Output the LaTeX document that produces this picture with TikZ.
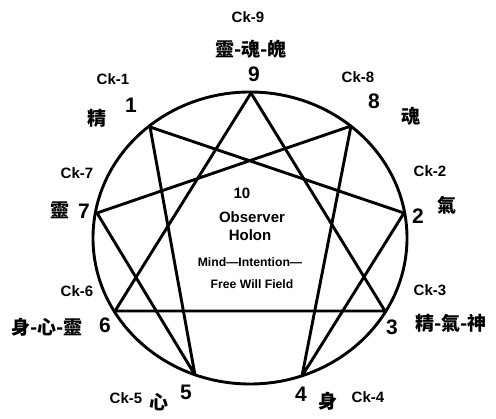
\documentclass[tikz,border=0pt]{standalone}
\usepackage{fontspec}
\setmainfont{Liberation Sans}
\newfontfamily\cjk{Noto Sans CJK TC}
\begin{document}
\begin{tikzpicture}[x=1pt,y=-1pt,
  line/.style={line width=2.9pt, line join=round, line cap=round},
  ck/.style={font=\bfseries\fontsize{15}{15}\selectfont, inner sep=0pt},
  num/.style={font=\bfseries\fontsize{21}{21}\selectfont, inner sep=0pt},
  han/.style={font=\cjk\bfseries\fontsize{19}{19}\selectfont, inner sep=0pt},
  mid/.style={font=\bfseries\fontsize{15}{15}\selectfont, inner sep=0pt},
  small/.style={font=\bfseries\fontsize{12.2}{12.2}\selectfont, inner sep=0pt}]
\useasboundingbox (0,0) rectangle (496,419);
% points on the ellipse
\coordinate (c) at (250,238);
\coordinate (p9) at (251,93);
\coordinate (p8) at (351,126);
\coordinate (p2) at (404,213);
\coordinate (p3) at (385,311);
\coordinate (p4) at (302,376);
\coordinate (p5) at (195,375);
\coordinate (p6) at (115,311);
\coordinate (p7) at (97,213);
\coordinate (p1) at (150,127);
\draw[line] (c) ellipse [x radius=157pt, y radius=146pt];
% triangle
\draw[line] (p9) -- (p3) -- (p6) -- cycle;
% hexad
\draw[line] (p1) -- (p2) -- (p4) -- (p8) -- (p7) -- (p5) -- cycle;
% labels
\node[ck] (ck9) at (248,17) {Ck-9};
\node[han] (h9) at (251,49) {靈-魂-魄};
\node[num] (n9) at (254,74) {9};
\node[ck] (ck1) at (113,79) {Ck-1};
\node[num] (n1) at (131,105) {1};
\node[han] (h1) at (97,118) {精};
\node[ck] (ck8) at (358,77) {Ck-8};
\node[num] (n8) at (374,101) {8};
\node[han] (h8) at (411,116) {魂};
\node[ck] (ck7) at (77,173) {Ck-7};
\node[han] (h7) at (60,210) {靈};
\node[num] (n7) at (84,211) {7};
\node[ck] (ck2) at (430,171) {Ck-2};
\node[han] (h2) at (447,205) {氣};
\node[num] (n2) at (418,216) {2};
\node[ck] (ck6) at (77,291) {Ck-6};
\node[han] (h6) at (47,327) {身-心-靈};
\node[num] (n6) at (105,325) {6};
\node[ck] (ck3) at (430,290) {Ck-3};
\node[num] (n3) at (392,327) {3};
\node[han] (h3) at (451,323) {精-氣-神};
\node[ck] (ck5) at (126,398) {Ck-5};
\node[han] (h5) at (159,402) {心};
\node[num] (n5) at (186,392) {5};
\node[num] (n4) at (301,394) {4};
\node[han] (h4) at (328,401) {身};
\node[ck] (ck4) at (368,397) {Ck-4};
% centre
\node[mid] (t10) at (242,193) {10};
\node[mid] (tobs) at (252,217) {Observer};
\node[mid] (thol) at (250,235) {Holon};
\node[small] (tmind) at (250,262) {Mind—Intention—};
\node[small] (tfree) at (252,284) {Free Will Field};
\end{tikzpicture}
\end{document}
